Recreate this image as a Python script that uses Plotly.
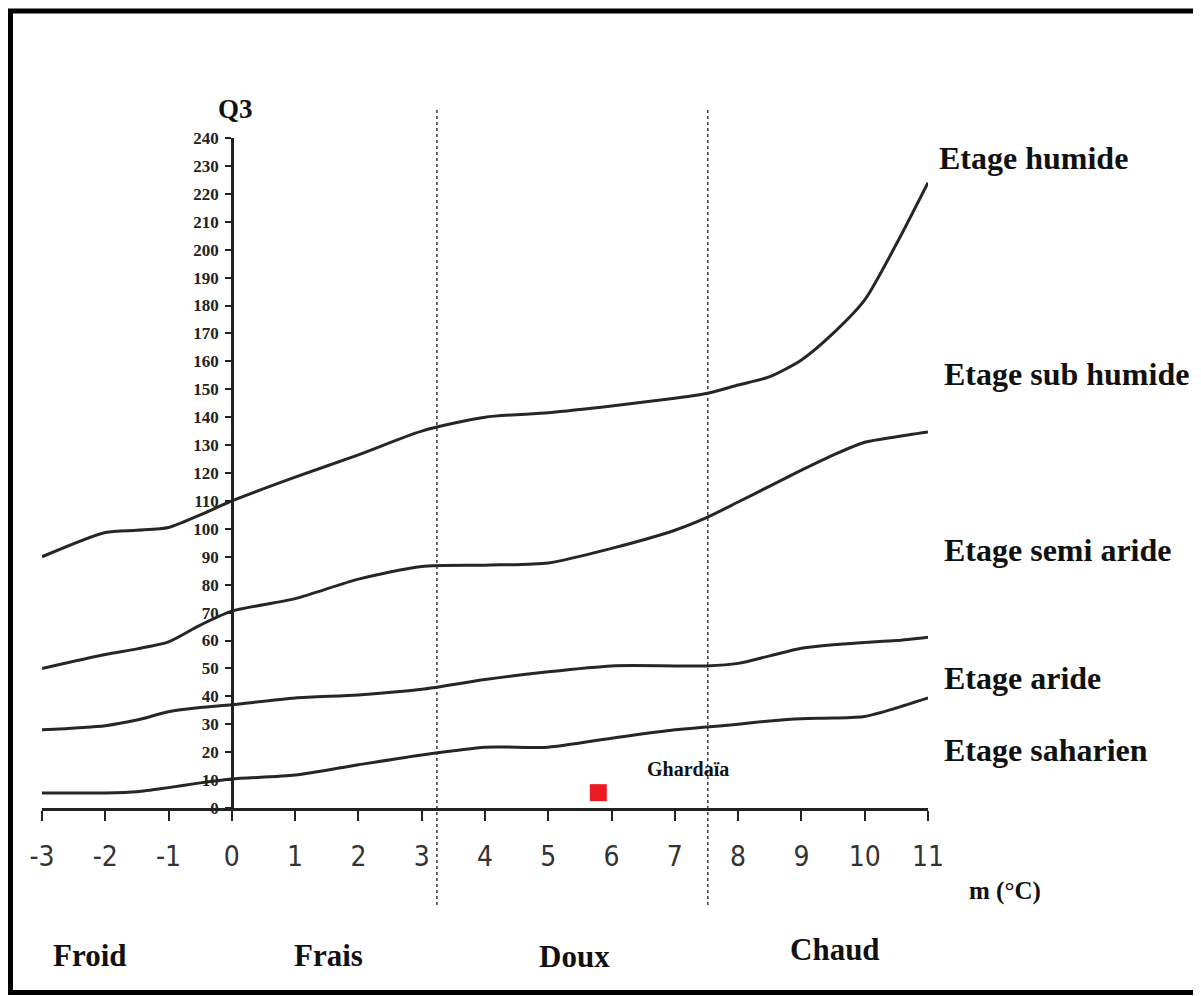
import plotly.graph_objects as go

# ---------------- data ----------------
m_values = [-3, -2, -1.5, -1, -0.5, 0, 1, 2, 3, 4, 5, 6, 7, 7.5, 8, 8.5, 9, 9.5, 10, 10.5, 11]

q3_humide = [90, 98.7, 99.5, 100.5, 105, 110, 118.5, 126.5, 135, 140, 141.6, 144, 146.8, 148.5,
             151.5, 154.5, 160.5, 170, 182, 202, 224]
q3_sub_humide = [50, 55, 57, 59.5, 65.5, 70.5, 75, 82, 86.5, 87, 87.8, 93, 99.5, 104,
                 109.6, 115.3, 121, 126.4, 131, 133, 134.7]
q3_semi_aride = [28, 29.5, 31.5, 34.5, 36, 37, 39.4, 40.5, 42.5, 46, 48.8, 50.9, 50.9, 50.9,
                 51.8, 54.5, 57.2, 58.5, 59.3, 60, 61.2]
q3_aride = [5.4, 5.4, 5.8, 7.3, 9, 10.4, 11.8, 15.5, 19, 21.8, 21.8, 25, 28, 29,
            30, 31.2, 32, 32.2, 32.8, 35.8, 39.4]

curves = [q3_humide, q3_sub_humide, q3_semi_aride, q3_aride]

zone_labels = ["Etage humide", "Etage sub humide", "Etage semi aride", "Etage aride", "Etage saharien"]
thermal_labels = ["Froid", "Frais", "Doux", "Chaud"]
zone_bounds_m = [3.24, 7.52]

station_name = "Ghardaïa"
station_m = [5.79]
station_q3 = [5.5]

x_tickvals = [-3, -2, -1, 0, 1, 2, 3, 4, 5, 6, 7, 8, 9, 10, 11]
x_ticktext = ["-3", "-2", "-1", "0", "1", "2", "3", "4", "5", "6", "7", "8", "9", "10", "11"]
y_tickvals = list(range(0, 241, 10))
x_range = [-3, 11]
y_range = [0, 240]

# ---------------- layout geometry (pixels, screen coordinates) ----------------
W, H = 1201, 996
OFF = 8  # page body margin
L, R_px, T, B_px = 42, 928, 138, 808   # plot area on screen
PW, PH = R_px - L, B_px - T


def px(x):
    return (x - L) / PW


def py(y):
    return (B_px - y) / PH


SERIF = "Liberation Serif, Times New Roman, serif"
NARROW = "Liberation Sans Narrow, DejaVu Sans Condensed, Liberation Sans, sans-serif"

fig = go.Figure()

for q in curves:
    fig.add_trace(go.Scatter(
        x=m_values, y=q, mode="lines",
        line=dict(color="#262626", width=3, shape="spline", smoothing=0.7),
        showlegend=False, hoverinfo="skip"))

fig.add_trace(go.Scatter(
    x=station_m, y=station_q3, mode="markers",
    marker=dict(symbol="square", size=17, color="#ec1c24", line=dict(width=0)),
    showlegend=False, cliponaxis=False))

shapes = []
for b in zone_bounds_m:
    shapes.append(dict(type="line", xref="x", yref="paper", x0=b, x1=b,
                       y0=py(905), y1=py(108),
                       line=dict(color="#444444", width=1.6, dash="dot"), layer="below"))
# outer frame
shapes.append(dict(type="rect", xref="paper", yref="paper",
                   x0=px(10.5), x1=px(1195.5), y0=py(992.5), y1=py(11),
                   line=dict(color="black", width=5), fillcolor="rgba(0,0,0,0)"))

annotations = []
label_pos = [(937, 158), (942, 374), (942, 550), (942, 678), (942, 750)]
for txt, (xx, yy) in zip(zone_labels, label_pos):
    annotations.append(dict(text=txt, xref="paper", yref="paper", x=px(xx), y=py(yy),
                            xanchor="left", yanchor="middle", showarrow=False,
                            font=dict(family=SERIF, size=32, color="#111111", weight="bold")))

therm_pos = [(90, 955), (328, 955), (574, 957), (835, 949)]
for txt, (xx, yy) in zip(thermal_labels, therm_pos):
    annotations.append(dict(text=txt, xref="paper", yref="paper", x=px(xx), y=py(yy),
                            xanchor="center", yanchor="middle", showarrow=False,
                            font=dict(family=SERIF, size=31, color="#111111", weight="bold")))

annotations.append(dict(text="Q3", xref="paper", yref="paper", x=px(235), y=py(109),
                        xanchor="center", yanchor="middle", showarrow=False,
                        font=dict(family=SERIF, size=27, color="#111111", weight="bold")))
annotations.append(dict(text="m (°C)", xref="paper", yref="paper", x=px(1005), y=py(891),
                        xanchor="center", yanchor="middle", showarrow=False,
                        font=dict(family=SERIF, size=25, color="#111111", weight="bold")))
annotations.append(dict(text=station_name, xref="paper", yref="paper", x=px(688), y=py(769),
                        xanchor="center", yanchor="middle", showarrow=False,
                        font=dict(family=SERIF, size=20, color="#111111", weight="bold")))

yaxis_pos = (0 - x_range[0]) / (x_range[1] - x_range[0])

fig.update_layout(
    width=W, height=H,
    margin=dict(l=L - OFF, r=W - (R_px - OFF), t=T - OFF, b=H - (B_px - OFF), pad=0),
    paper_bgcolor="white", plot_bgcolor="white",
    showlegend=False,
    shapes=shapes, annotations=annotations,
    xaxis=dict(range=x_range, tickvals=x_tickvals, ticktext=x_ticktext,
               showline=True, linecolor="#222222", linewidth=2.5,
               ticks="outside", ticklen=10, tickwidth=2, tickcolor="#222222",
               showgrid=False, zeroline=False, ticklabelstandoff=12,
               tickfont=dict(family=NARROW, size=28, color="#333333")),
    yaxis=dict(range=y_range, tickvals=y_tickvals, anchor="free", position=yaxis_pos,
               showline=True, linecolor="#222222", linewidth=2.5,
               ticks="outside", ticklen=6, tickwidth=2, tickcolor="#222222",
               showgrid=False, zeroline=False, ticklabelstandoff=3,
               tickfont=dict(family=SERIF, size=17, color="#222222", weight="bold")),
)

fig.write_html("out.html")
